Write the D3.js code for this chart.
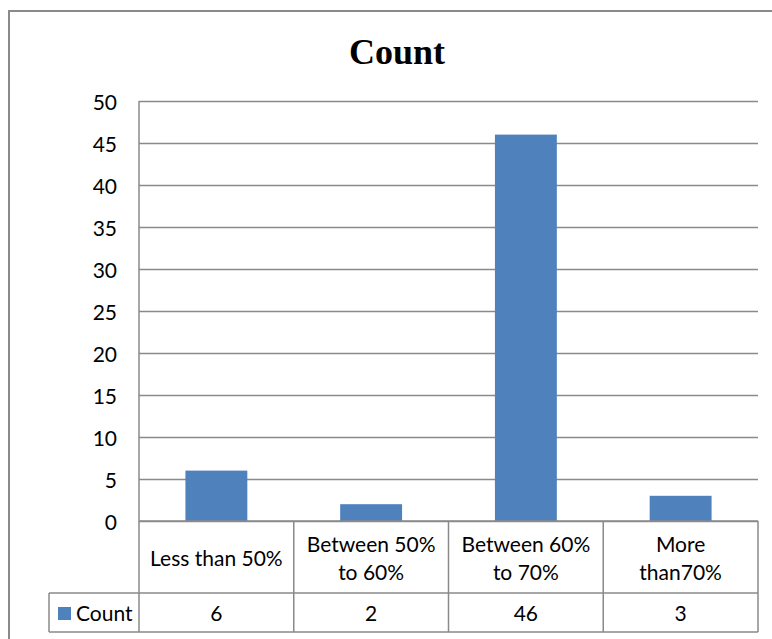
<!DOCTYPE html>
<html>
<head>
<meta charset="utf-8">
<script src="https://cdn.jsdelivr.net/npm/d3@7"></script>
<style>
  body { margin: 0; background: #fff; }
  text { font-family: Lato, "Open Sans", sans-serif; fill: #000; }
</style>
</head>
<body>
<svg id="chart" width="772" height="639"></svg>
<script>
// chart data
var categories = [["Less than 50%"], ["Between 50%", "to 60%"], ["Between 60%", "to 70%"], ["More", "than70%"]];
var counts = [6, 2, 46, 3];
var seriesName = "Count";
var yTicks = [0, 5, 10, 15, 20, 25, 30, 35, 40, 45, 50];

var svg = d3.select("#chart");
var grid = "#8a8a8a";
var barColor = "#4f81bd";

// plot + table geometry
var pLeft = 139, pRight = 758, pTop = 101, pBottom = 521;
var rowCat = 593, rowVal = 632, legendLeft = 49;
var fs = "21px";

var x = d3.scaleBand().domain(d3.range(counts.length)).range([pLeft, pRight]);
var y = d3.scaleLinear().domain([0, 50]).range([pBottom, pTop]);

// outer frame (cut off at right and bottom)
svg.append("path")
    .attr("d", "M9,639 L9,11 L772,11")
    .attr("fill", "none").attr("stroke", grid).attr("stroke-width", 2);

// title
svg.append("text")
    .attr("x", 397).attr("y", 64)
    .attr("text-anchor", "middle")
    .style("font-family", "'Liberation Serif', 'Times New Roman', serif")
    .style("font-weight", "bold").style("font-size", "36px")
    .text(seriesName);

// gridlines
svg.append("g").selectAll("line").data(yTicks).join("line")
    .attr("x1", pLeft).attr("x2", pRight)
    .attr("y1", function(d) { return Math.round(y(d)) + 0.5; })
    .attr("y2", function(d) { return Math.round(y(d)) + 0.5; })
    .attr("stroke", grid).attr("stroke-width", 1.3);

// y tick labels
svg.append("g").selectAll("text").data(yTicks).join("text")
    .attr("x", 117).attr("y", function(d) { return y(d); })
    .attr("text-anchor", "end").attr("dominant-baseline", "central")
    .style("font-size", fs)
    .text(function(d) { return d; });

// bars (gap width 150%)
var bw = x.bandwidth() * 0.4;
svg.append("g").selectAll("rect").data(counts).join("rect")
    .attr("x", function(d, i) { return x(i) + (x.bandwidth() - bw) / 2; })
    .attr("y", function(d) { return y(d); })
    .attr("width", bw)
    .attr("height", function(d) { return y(0) - y(d); })
    .attr("fill", barColor);

// data table lines
var t = svg.append("g").attr("stroke", grid).attr("stroke-width", 1.5).attr("fill", "none");
t.append("line").attr("x1", pLeft).attr("x2", pLeft).attr("y1", pTop).attr("y2", rowVal);
t.append("line").attr("x1", pLeft).attr("x2", pRight).attr("y1", pBottom).attr("y2", pBottom);
t.append("line").attr("x1", legendLeft).attr("x2", pRight).attr("y1", rowCat).attr("y2", rowCat);
t.append("line").attr("x1", legendLeft).attr("x2", pRight).attr("y1", rowVal).attr("y2", rowVal);
t.append("line").attr("x1", legendLeft).attr("x2", legendLeft).attr("y1", rowCat).attr("y2", rowVal);
t.selectAll(".sep").data(d3.range(1, counts.length + 1)).join("line")
    .attr("x1", function(i) { return i < counts.length ? x(i) : pRight; })
    .attr("x2", function(i) { return i < counts.length ? x(i) : pRight; })
    .attr("y1", pBottom).attr("y2", rowVal);

// category labels
var cat = svg.append("g").selectAll("text").data(categories).join("text")
    .attr("text-anchor", "middle")
    .style("font-size", fs);
cat.each(function(lines, i) {
    var cx = x(i) + x.bandwidth() / 2;
    var cy = (pBottom + rowCat) / 2;
    var lh = 28;
    d3.select(this).selectAll("tspan").data(lines).join("tspan")
        .attr("x", cx)
        .attr("y", function(d, j) { return cy + (j - (lines.length - 1) / 2) * lh; })
        .attr("dominant-baseline", "central")
        .text(function(d) { return d; });
});

// value row
svg.append("g").selectAll("text").data(counts).join("text")
    .attr("x", function(d, i) { return x(i) + x.bandwidth() / 2; })
    .attr("y", (rowCat + rowVal) / 2)
    .attr("text-anchor", "middle").attr("dominant-baseline", "central")
    .style("font-size", fs)
    .text(function(d) { return d; });

// legend key in table
svg.append("rect").attr("x", 58).attr("y", 607).attr("width", 13).attr("height", 13).attr("fill", barColor);
svg.append("text").attr("x", 76).attr("y", (rowCat + rowVal) / 2)
    .attr("dominant-baseline", "central")
    .style("font-size", fs)
    .text(seriesName);
</script>
</body>
</html>
